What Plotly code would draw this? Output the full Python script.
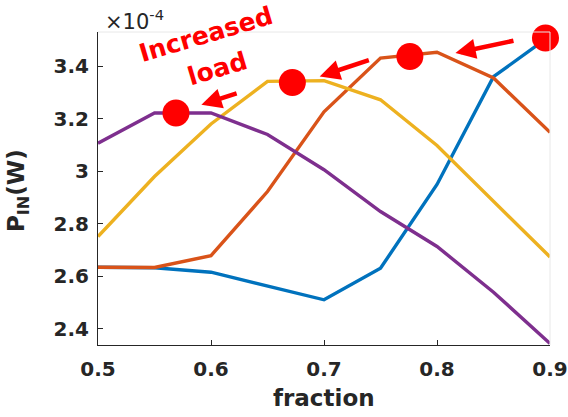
import plotly.graph_objects as go

fraction = [0.5, 0.55, 0.6, 0.65, 0.7, 0.75, 0.8, 0.85, 0.9]
blue = [2.635, 2.633, 2.616, 2.565, 2.511, 2.631, 2.950, 3.360, 3.515]
orange = [2.635, 2.634, 2.679, 2.923, 3.226, 3.431, 3.453, 3.355, 3.148]
yellow = [2.752, 2.980, 3.180, 3.342, 3.345, 3.272, 3.098, 2.888, 2.674]
purple = [3.107, 3.222, 3.222, 3.140, 3.006, 2.847, 2.714, 2.540, 2.345]

peak_x = [0.569, 0.672, 0.776, 0.896]
peak_y = [3.222, 3.338, 3.437, 3.507]

# arrows: (tail_x, tail_y, head_x, head_y)
arrow_tail_x = [0.624, 0.741, 0.869]
arrow_tail_y = [3.298, 3.425, 3.498]
arrow_head_x = [0.5915, 0.6962, 0.8163]
arrow_head_y = [3.253, 3.361, 3.450]

x_ticks = [0.5, 0.6, 0.7, 0.8, 0.9]
y_ticks = [2.4, 2.6, 2.8, 3.0, 3.2, 3.4]
y_ticklabels = ["2.4", "2.6", "2.8", "3", "3.2", "3.4"]

colors = ["#0072BD", "#D95319", "#EDB120", "#7E2F8E"]
series = [blue, orange, yellow, purple]

FONT = "DejaVu Sans"
TXT = "#262626"

fig = go.Figure()
for s, c in zip(series, colors):
    fig.add_trace(go.Scatter(x=fraction, y=s, mode="lines",
                             line=dict(color=c, width=3.4), showlegend=False,
                             hoverinfo="skip"))

fig.add_trace(go.Scatter(x=peak_x, y=peak_y, mode="markers",
                         marker=dict(color="#FF0000", size=27, line=dict(width=0)),
                         showlegend=False, cliponaxis=False))

annotations = []
for tx, ty, hx, hy in zip(arrow_tail_x, arrow_tail_y, arrow_head_x, arrow_head_y):
    annotations.append(dict(x=hx, y=hy, ax=tx, ay=ty, xref="x", yref="y",
                            axref="x", ayref="y", text="", showarrow=True,
                            arrowhead=2, arrowsize=0.9, arrowwidth=4.5,
                            arrowcolor="#FF0000", standoff=0))

annotations += [
    dict(x=0.5953, y=3.52, xref="x", yref="y", text="<b>Increased</b>",
         showarrow=False, textangle=-16.5,
         font=dict(family=FONT, size=25, color="#FF0000")),
    dict(x=0.6061, y=3.393, xref="x", yref="y", text="<b>load</b>",
         showarrow=False, textangle=-16.5,
         font=dict(family=FONT, size=25, color="#FF0000")),
    dict(x=0.011, y=1.038, xref="paper", yref="paper", xanchor="left",
         yanchor="middle", text="×10<sup>-4</sup>", showarrow=False,
         font=dict(family=FONT, size=21, color=TXT)),
    dict(x=0.5, y=-0.17, xref="paper", yref="paper", xanchor="center",
         yanchor="middle", text="<b>fraction</b>", showarrow=False,
         font=dict(family=FONT, size=23, color=TXT)),
    dict(x=-0.177, y=0.495, xref="paper", yref="paper", xanchor="center",
         yanchor="middle", text="<b>P<sub>IN</sub>(W)</b>", showarrow=False,
         textangle=-90, font=dict(family=FONT, size=23, color=TXT)),
]

fig.update_layout(
    width=568, height=417,
    margin=dict(l=98, r=18, t=32, b=72),
    paper_bgcolor="white", plot_bgcolor="white",
    annotations=annotations,
    shapes=[
        dict(type="line", xref="paper", yref="paper", x0=0, x1=1, y0=1, y1=1,
             line=dict(color="#e8e8e8", width=1)),
        dict(type="line", xref="paper", yref="paper", x0=1, x1=1, y0=0, y1=1,
             line=dict(color="#e8e8e8", width=1)),
    ],
)
fig.update_xaxes(range=[0.5, 0.9], tickvals=x_ticks,
                 ticktext=[f"{v:.1f}" for v in x_ticks], automargin=False,
                 showgrid=False, zeroline=False, showline=True,
                 linecolor="#262626", linewidth=1, ticks="inside", ticklen=5,
                 tickcolor="#262626",
                 tickfont=dict(family=FONT, size=20, color=TXT, weight="bold"),
                 ticklabelstandoff=6)
fig.update_yaxes(range=[2.339, 3.53], tickvals=y_ticks, ticktext=y_ticklabels,
                 automargin=False,
                 showgrid=False, zeroline=False, showline=True,
                 linecolor="#262626", linewidth=1, ticks="inside", ticklen=5,
                 tickcolor="#262626",
                 tickfont=dict(family=FONT, size=20, color=TXT, weight="bold"),
                 ticklabelstandoff=4)

fig.write_html("out.html")
